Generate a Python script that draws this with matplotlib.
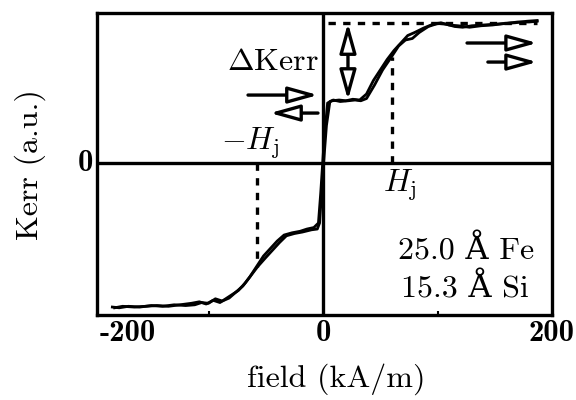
import matplotlib
matplotlib.use("Agg")
import matplotlib.pyplot as plt

plt.rcParams['mathtext.fontset'] = 'cm'
plt.rcParams['font.family'] = ['cmr10', 'DejaVu Serif']
plt.rcParams['axes.unicode_minus'] = False
plt.rcParams['axes.formatter.use_mathtext'] = True

# branch 1 (sweep up)
field_up = [-182, -175, -165, -155, -145, -135, -125, -115, -108, -102, -96, -90, -85, -80,
            -74, -68, -62, -57, -50, -44, -38, -32, -25, -18, -10, -5, -3, 0, 3, 6, 9, 15,
            22, 28, 33, 38, 45, 52, 60, 66, 72, 78, 84, 92, 100, 108, 115, 122, 130, 140,
            150, 160, 170, 180, 187]
kerr_up = [-0.965, -0.955, -0.960, -0.955, -0.950, -0.955, -0.945, -0.935, -0.925, -0.940,
           -0.915, -0.930, -0.905, -0.880, -0.850, -0.800, -0.740, -0.690, -0.630, -0.580,
           -0.530, -0.485, -0.470, -0.460, -0.445, -0.440, -0.400, -0.050, 0.250, 0.410,
           0.420, 0.410, 0.415, 0.420, 0.415, 0.430, 0.520, 0.620, 0.710, 0.780, 0.820,
           0.830, 0.870, 0.910, 0.930, 0.925, 0.910, 0.905, 0.915, 0.920, 0.925, 0.930,
           0.940, 0.940, 0.945]

# branch 2 (sweep down)
field_dn = [187, 178, 168, 158, 148, 138, 128, 118, 110, 103, 96, 88, 80, 74, 68, 62, 56,
            50, 44, 38, 32, 26, 20, 14, 8, 4, 1, -2, -4, -8, -14, -20, -27, -34, -40, -46,
            -52, -58, -64, -70, -76, -82, -88, -94, -100, -106, -112, -120, -130, -140,
            -150, -160, -170, -178, -184]
kerr_dn = [0.950, 0.945, 0.935, 0.930, 0.920, 0.915, 0.905, 0.915, 0.920, 0.935, 0.925,
           0.900, 0.870, 0.850, 0.800, 0.750, 0.690, 0.620, 0.550, 0.460, 0.420, 0.425,
           0.415, 0.420, 0.415, 0.400, 0.150, -0.200, -0.400, -0.430, -0.440, -0.455,
           -0.465, -0.480, -0.520, -0.570, -0.620, -0.690, -0.760, -0.820, -0.860, -0.900,
           -0.920, -0.905, -0.935, -0.930, -0.945, -0.950, -0.945, -0.955, -0.950,
           -0.960, -0.955, -0.965, -0.960]

Hj = 60
mHj = -58
sat = 0.933

fig = plt.figure(figsize=(5.76, 4.0), dpi=100)
ax = fig.add_axes([97/576, 1-315/400, (552-97)/576, (315-13)/400])
ax.set_xlim(-197.4, 200)
ax.set_ylim(-1.013, 1.0)

ax.axhline(0, color='black', lw=2.4, zorder=1)
ax.axvline(0, color='black', lw=2.4, zorder=1)

ax.plot(field_up, kerr_up, color='black', lw=2.0, zorder=3)
ax.plot(field_dn, kerr_dn, color='black', lw=2.0, zorder=3)

# dashed guides
ax.plot([4, 187], [sat, sat], color='black', lw=2.4, ls=(0, (2.2, 2.2)), zorder=2)
ax.plot([Hj, Hj], [0, 0.71], color='black', lw=2.4, ls=(0, (2.2, 2.2)), zorder=2)
ax.plot([mHj, mHj], [0, -0.69], color='black', lw=2.4, ls=(0, (2.2, 2.2)), zorder=2)

astyle = '-|>,head_length=0.9,head_width=0.25'
dstyle = '<|-|>,head_length=0.9,head_width=0.25'
def arrow(x0, y0, x1, y1, style=astyle):
    ax.annotate('', xy=(x1, y1), xytext=(x0, y0),
                arrowprops=dict(arrowstyle=style, fc='white', ec='black', lw=2.4,
                                mutation_scale=20, shrinkA=0, shrinkB=0), zorder=4)

arrow(-65.5, 0.453, -4.4, 0.453)
arrow(-4.4, 0.333, -46.3, 0.333)
arrow(125.8, 0.80, 187, 0.80)
arrow(144, 0.673, 187, 0.673)
arrow(21.8, 0.42, 21.8, sat, dstyle)

fs = 23
ax.text(-4, 0.67, r'$\Delta$Kerr', ha='right', va='center', fontsize=fs)
ax.text(-64, 0.13, r'$-H_{\rm j}$', ha='center', va='center', fontsize=fs)
ax.text(67, -0.15, r'$H_{\rm j}$', ha='center', va='center', fontsize=fs)
ax.text(184, -0.58, '25.0 Å Fe', ha='right', va='center', fontsize=fs)
ax.text(180, -0.835, '15.3 Å Si', ha='right', va='center', fontsize=fs)

ax.set_xticks([0])
ax.set_xticklabels([])
ax.set_yticks([])
ax.set_xticks([-100, 100], minor=True)
ax.tick_params(axis='x', which='minor', direction='in', length=3, width=1.5)
ax.tick_params(axis='x', which='major', length=0)

bold = dict(family='cmb10', fontsize=22)
ax.text(-197.4 + 2, -1.045, '-200', ha='left', va='top', **bold)
ax.text(0, -1.045, '0', ha='center', va='top', **bold)
ax.text(-201, 0, '0', ha='right', va='center', **bold)
fig.text(575/576, 1-(315+0.032*150)/400, '200', ha='right', va='top', **bold)

for s in ax.spines.values():
    s.set_linewidth(2.4)

fig.text(336/576, 1-379/400, 'field (kA/m)', ha='center', va='center', fontsize=fs)
fig.text(30/576, 1-165/400, 'Kerr (a.u.)', ha='center', va='center', rotation=90, fontsize=fs)

fig.savefig('out.png', dpi=100)
